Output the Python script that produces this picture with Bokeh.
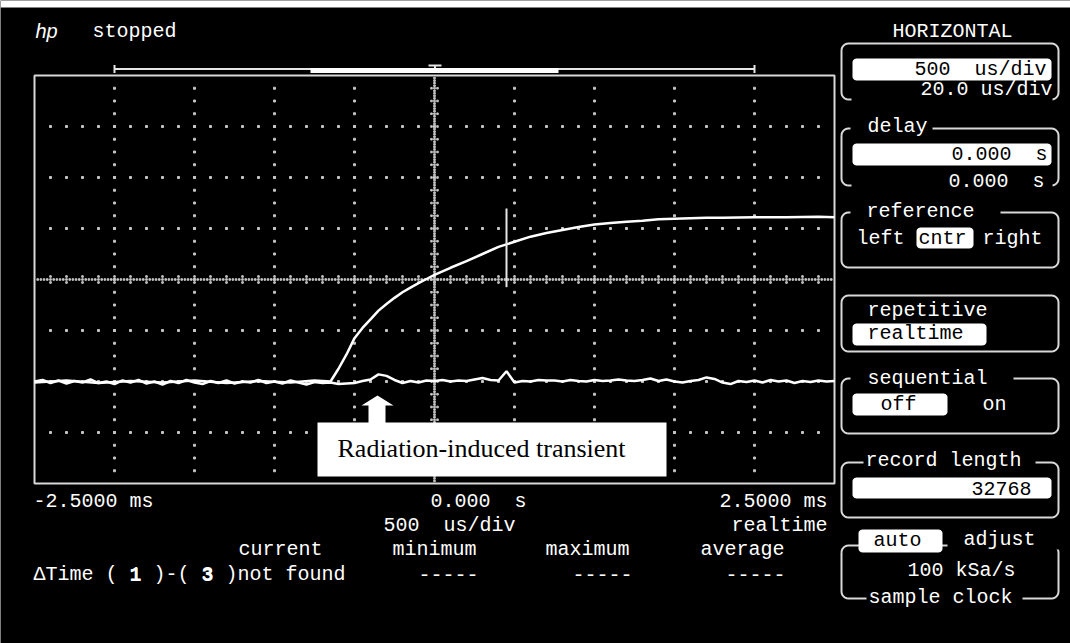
import numpy as np
from bokeh.plotting import figure
from bokeh.models import Range1d
from bokeh.core.properties import value
from bokeh.embed import file_html
from bokeh.resources import INLINE

# ---------------- data ----------------
# channel 3: flat signal with the radiation-induced transient, sampled every 0.05 ms from -2.5 ms (divisions)
ch3_values = [
    -2.00, -1.97, -2.03, -1.98, -2.04, -1.99, -2.02, -1.96, -2.03, -2.00,
    -2.05, -1.98, -2.02, -1.97, -2.04, -2.00, -2.06, -1.99, -2.03, -1.97,
    -2.02, -2.05, -1.99, -2.03, -1.98, -2.04, -2.00, -2.02, -1.97, -2.03,
    -2.00, -2.04, -1.98, -2.02, -2.06, -2.01, -2.03, -2.02, -2.05, -2.04,
    -2.03, -1.99, -1.96, -1.86, -1.89, -1.97, -2.03, -1.99, -2.02, -1.98,
    -1.99, -1.97, -2.00, -1.98, -1.99, -1.96, -1.93, -1.97, -1.98, -1.80,
    -2.02, -1.99, -2.00, -1.97, -1.98, -1.98, -2.00, -1.97, -1.99, -2.00,
    -1.97, -1.99, -1.98, -1.96, -1.98, -1.99, -1.97, -1.94, -1.99, -1.96,
    -2.00, -2.02, -1.99, -1.97, -1.92, -1.95, -2.02, -2.05, -1.99, -2.01,
    -1.98, -2.02, -1.97, -2.00, -1.98, -2.03, -1.99, -2.01, -1.98, -2.00,
    -1.99,
]
# channel 1: rising step response (ms, divisions)
ch1_time = [-2.5, -2.3, -2.1, -1.9, -1.7, -1.5, -1.3, -1.1, -0.9, -0.75, -0.65,
            -0.60, -0.55, -0.50, -0.45, -0.40, -0.35, -0.30, -0.25, -0.20, -0.15,
            -0.10, -0.05, 0.0, 0.1, 0.2, 0.3, 0.4, 0.5, 0.6, 0.7, 0.8, 0.9, 1.0,
            1.1, 1.2, 1.3, 1.4, 1.5, 1.6, 1.7, 1.8, 2.0, 2.2, 2.4, 2.5]
ch1_values = [-2.02, -1.98, -2.03, -1.99, -2.02, -1.98, -2.03, -1.99, -2.02, -1.98, -2.00,
              -1.75, -1.47, -1.15, -0.95, -0.78, -0.61, -0.48, -0.36, -0.25, -0.16,
              -0.07, 0.01, 0.09, 0.23, 0.36, 0.50, 0.64, 0.74, 0.84, 0.91, 0.97, 1.03, 1.08,
              1.11, 1.13, 1.15, 1.18, 1.19, 1.20, 1.21, 1.21, 1.22, 1.22, 1.23, 1.22]
cursor_time = 0.45
cursor_span = [-0.15, 1.39]
NB = "\u00a0"
time_labels = ["-2.5000 ms", "0.000" + NB + NB + "s", "2.5000 ms"]
annotation_text = "Radiation-induced transient"

# ---------------- layout geometry ----------------
W, H = 1070, 643
X_T0, X_T1 = 34, 834      # screen x of -2.5 ms and +2.5 ms
Y_V1, Y_V0 = 75, 483      # screen y of +4 div and -4 div
ms_per_px = 5.0 / (X_T1 - X_T0)
div_per_px = 8.0 / (Y_V0 - Y_V1)

p = figure(width=W, height=H, x_range=Range1d(0, W), y_range=Range1d(H, 0),
           output_backend="svg", toolbar_location=None, min_border=0,
           x_axis_location=None, y_axis_location=None,
           background_fill_color="black", border_fill_color="black",
           outline_line_color=None)
p.grid.visible = False
p.extra_x_ranges = {"t": Range1d(-2.5 - X_T0 * ms_per_px, 2.5 + (W - X_T1) * ms_per_px)}
p.extra_y_ranges = {"v": Range1d(-4 - (H - Y_V0) * div_per_px, 4 + Y_V1 * div_per_px)}
TV = dict(x_range_name="t", y_range_name="v")

# white strip at the top of the scanned screen
p.quad(left=[0], right=[W], top=[0], bottom=[7], fill_color="white", line_color=None)

# ---------------- graticule ----------------
GRID = "#c4c4c4"
t_cols = [-2.0, -1.5, -1.0, -0.5, 0.5, 1.0, 1.5, 2.0]
v_minor = np.arange(-3.75, 3.76, 0.25)
cx, cy = np.meshgrid(t_cols, v_minor)
v_rows = [-3, -2, -1, 1, 2, 3]
t_minor = np.arange(-2.4, 2.41, 0.1)
rx, ry = np.meshgrid(t_minor, v_rows)
dx = np.concatenate([cx.ravel(), rx.ravel()])
dy = np.concatenate([cy.ravel(), ry.ravel()])
p.scatter(dx, dy, marker="square", size=2, color=GRID, **TV)
vd = np.arange(-3.95, 3.951, 0.05)
td = np.arange(-2.48, 2.481, 0.02)
p.scatter(np.zeros_like(vd), vd, marker="square", size=1.6, color=GRID, **TV)
p.scatter(td, np.zeros_like(td), marker="square", size=1.6, color=GRID, **TV)
off_t = 3 * ms_per_px
off_v = 3 * div_per_px
p.scatter(np.concatenate([np.full_like(v_minor, -off_t), np.full_like(v_minor, off_t)]),
          np.concatenate([v_minor, v_minor]), marker="square", size=1.6, color=GRID, **TV)
p.scatter(np.concatenate([t_minor, t_minor]),
          np.concatenate([np.full_like(t_minor, -off_v), np.full_like(t_minor, off_v)]),
          marker="square", size=1.6, color=GRID, **TV)

# frame
p.quad(left=[-2.5], right=[2.5], bottom=[-4], top=[4], fill_color=None,
       line_color="#d8d8d8", line_width=2, **TV)

# ---------------- traces ----------------
ch3_time = np.linspace(-2.5, 2.5, len(ch3_values))
p.line(ch3_time, ch3_values, line_color="white", line_width=2.5, **TV)
p.line(ch1_time, ch1_values, line_color="white", line_width=2.5, **TV)
p.segment(x0=[cursor_time], y0=[cursor_span[0]], x1=[cursor_time], y1=[cursor_span[1]],
          line_color="#e6e6e6", line_width=2, **TV)

# ---------------- annotation ----------------
p.quad(left=[317], right=[666], top=[422], bottom=[476], fill_color="white", line_color=None)
p.patch([368, 368, 361, 377, 393, 385, 385], [423, 405, 405, 395, 405, 405, 423],
        fill_color="white", line_color=None)
p.text([337], [448], text=[annotation_text], text_font=value("Liberation Serif"),
       text_font_size="26px", text_color="black", text_baseline="alphabetic", text_align="left")

# ---------------- top status / memory bar ----------------
p.segment(x0=[114, 114, 754, 428, 434.5], y0=[68.5, 64.5, 64.5, 65, 65],
          x1=[754, 114, 754, 441, 434.5], y1=[68.5, 72.5, 72.5, 65, 68.5],
          line_color="#e6e6e6", line_width=2)
p.quad(left=[310], right=[558], top=[67.5], bottom=[72.5], fill_color="white", line_color=None)
p.text([35], [30], text=["hp"], text_font=value("Liberation Sans"), text_font_style="italic",
       text_font_size="20px", text_color="white", text_baseline="alphabetic")

# ---------------- side panel boxes ----------------
def rrect(x0, y0, x1, y1, r):
    a = np.linspace(0, np.pi / 2, 7)
    xs, ys = [], []
    for ccx, ccy, st in [(x0 + r, y0 + r, np.pi), (x1 - r, y0 + r, 1.5 * np.pi),
                         (x1 - r, y1 - r, 0.0), (x0 + r, y1 - r, 0.5 * np.pi)]:
        ang = st + a
        xs += list(ccx + r * np.cos(ang))
        ys += list(ccy + r * np.sin(ang))
    xs.append(xs[0]); ys.append(ys[0])
    return xs, ys

boxes = [(841, 43, 1058, 99), (841, 128, 1058, 185), (841, 212, 1058, 267),
         (841, 295, 1058, 351), (841, 378, 1058, 433), (841, 462, 1058, 517),
         (841, 545, 1058, 598)]
bx, by = zip(*[rrect(*b, 7) for b in boxes])
p.multi_line(list(bx), list(by), line_color="#d8d8d8", line_width=2)
gaps = [(851, 1052, 95, 103), (850, 932, 124, 132), (851, 1052, 181, 189),
        (850, 1000, 208, 216), (850, 1013, 374, 382), (863, 1035, 458, 466),
        (947, 1060, 541, 549), (866, 1022, 594, 602)]
p.quad(left=[g[0] for g in gaps], right=[g[1] for g in gaps],
       top=[g[2] for g in gaps], bottom=[g[3] for g in gaps], fill_color="black", line_color=None)
fields = [(852, 58, 1051, 80), (852, 143, 1051, 165), (916, 227, 973, 248),
          (852, 323, 986, 345), (852, 393, 947, 415), (852, 477, 1051, 498),
          (858, 529, 942, 552)]
fx, fy = zip(*[rrect(*f, 4) for f in fields])
p.patches(list(fx), list(fy), fill_color="white", line_color=None)

# ---------------- screen texts ----------------
MONO = value("Liberation Mono")
SHIFT = -6
def txt(items, align, color, style="normal"):
    p.text([i[1] for i in items], [i[2] + SHIFT for i in items], text=[i[0] for i in items],
           text_font=MONO, text_font_size="20px", text_color=color, text_align=align,
           text_baseline="alphabetic", text_font_style=style)

US = "500" + NB + NB + "us/div"
ZS = "0.000" + NB + NB + "s"
txt([("stopped", 92, 36.5), ("HORIZONTAL", 892, 36.5), ("delay", 867, 131.5),
     ("reference", 866, 216.5), ("left", 856, 243.5), ("right", 982, 243.5),
     ("repetitive", 867, 316), ("sequential", 867, 383.5), ("on", 982, 410),
     ("record length", 865, 466), ("adjust", 963, 545), ("100 kSa/s", 907, 576),
     ("sample clock", 868, 603),
     (time_labels[0], 33, 506.5), (time_labels[1], 430, 506.5), (US, 383, 530.5),
     ("current", 238, 555), ("minimum", 392, 555), ("maximum", 545, 555), ("average", 700, 555),
     ("ΔTime ( 1 )-( 3 )not found", 33, 580),
     ("-----", 418, 580), ("-----", 572, 580), ("-----", 725, 580)], "left", "white")
txt([("20.0 us/div", 1052, 95), (ZS, 1044, 186.5),
     (time_labels[2], 827, 506.5), ("realtime", 827, 530.5)], "right", "white")
txt([("1", 33 + 8 * 12.0, 580), ("3", 33 + 14 * 12.0, 580)], "left", "white", "bold")
txt([("cntr", 918, 243.5), ("realtime", 867, 338.5), ("off", 880, 410),
     ("auto", 873, 546)], "left", "black")
txt([(US, 1046, 75), (ZS, 1047, 159.5), ("32768", 1031, 493.5)],
    "right", "black")

open("out.html", "w").write(file_html(p, INLINE))
